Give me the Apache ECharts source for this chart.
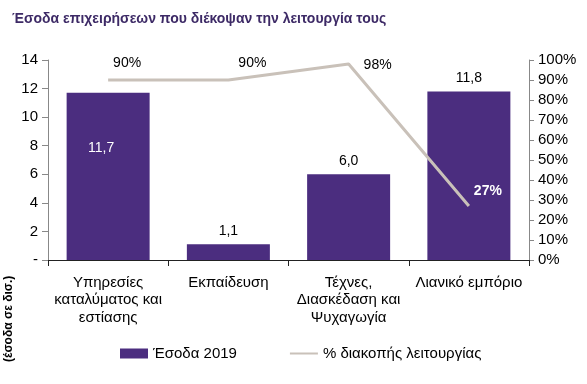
<!DOCTYPE html>
<html><head><meta charset="utf-8">
<script src="https://cdn.jsdelivr.net/npm/echarts@6/dist/echarts.min.js"></script>
<style>html,body{margin:0;padding:0;background:#fff}#c{width:587px;height:384px}</style>
</head><body><div id="c"></div>
<script>
var categories = ['Υπηρεσίες\nκαταλύματος και\nεστίασης', 'Εκπαίδευση', 'Τέχνες,\nΔιασκέδαση και\nΨυχαγωγία', 'Λιανικό εμπόριο'];
var revenue2019 = [11.7, 1.1, 6.0, 11.8];
var closurePct = [90, 90, 98, 27];
var leftTicks = { min: 0, max: 14, interval: 2 };
var rightTicks = { min: 0, max: 100, interval: 10 };

var FONT = '"Liberation Sans", Arial, sans-serif';
var purple = '#4b2d7f';
var lineCol = '#c9c1b9';

var chart = echarts.init(document.getElementById('c'), null, {renderer: 'canvas'});

var barLabelCfg = [
  {position: 'insideTop', distance: 48, offset: [-7, 0], color: '#fff'},
  {position: 'top', distance: 6, color: '#000'},
  {position: 'top', distance: 6, color: '#000'},
  {position: 'top', distance: 6, color: '#000'}
];
var lineLabelCfg = [
  {position: 'top', offset: [19, -5], color: '#000', fontWeight: 'normal'},
  {position: 'top', offset: [24, -5], color: '#000', fontWeight: 'normal'},
  {position: 'top', offset: [29, 13], color: '#000', fontWeight: 'normal'},
  {position: 'top', offset: [19, -3], color: '#fff', fontWeight: 'bold'}
];

chart.setOption({
  animation: false,
  textStyle: {fontFamily: FONT},
  title: {
    text: 'Έσοδα επιχειρήσεων που διέκοψαν την λειτουργία τους',
    left: 7, top: 7,
    textStyle: {fontFamily: FONT, fontSize: 14, fontWeight: 'bold', color: '#3d2a66'}
  },
  grid: {left: 48, right: 58, top: 60, bottom: 124, containLabel: false},
  legend: {
    bottom: 18, left: 115, itemGap: 52, itemWidth: 28, itemHeight: 10,
    textStyle: {fontFamily: FONT, fontSize: 15, color: '#000'},
    data: [
      {name: 'Έσοδα 2019', icon: 'rect'},
      {name: '% διακοπής λειτουργίας', itemStyle: {opacity: 0}}
    ]
  },
  graphic: [{
    type: 'text', x: 3, y: 362, rotation: Math.PI / 2,
    style: {text: '(έσοδα σε δισ.)', font: 'bold 12px ' + FONT, fill: '#000', textVerticalAlign: 'top', verticalAlign: 'top'}
  }],
  xAxis: {
    type: 'category', data: categories,
    axisLine: {lineStyle: {color: '#222', width: 1}},
    axisTick: {show: true, length: 6, lineStyle: {color: '#222'}},
    axisLabel: {fontFamily: FONT, fontSize: 15, color: '#000', lineHeight: 17.5, margin: 14, interval: 0}
  },
  yAxis: [{
    type: 'value', min: leftTicks.min, max: leftTicks.max, interval: leftTicks.interval,
    axisLine: {show: true, lineStyle: {color: '#888'}},
    axisTick: {show: true, length: 6, lineStyle: {color: '#888'}},
    splitLine: {show: false},
    axisLabel: {fontFamily: FONT, fontSize: 15, color: '#000', margin: 10,
      formatter: function (v) { return v === 0 ? '-' : String(v); }}
  }, {
    type: 'value', min: rightTicks.min, max: rightTicks.max, interval: rightTicks.interval,
    position: 'right',
    axisLine: {show: true, lineStyle: {color: '#888'}},
    axisTick: {show: true, length: 5, lineStyle: {color: '#888'}},
    splitLine: {show: false},
    axisLabel: {fontFamily: FONT, fontSize: 15, color: '#000', margin: 9,
      formatter: function (v) { return v + '%'; }}
  }],
  series: [{
    name: 'Έσοδα 2019', type: 'bar', yAxisIndex: 0, barWidth: 83,
    itemStyle: {color: purple},
    data: revenue2019.map(function (v, i) {
      var c = barLabelCfg[i];
      return {value: v, label: {show: true, position: c.position, distance: c.distance, offset: c.offset || [0, 0],
        color: c.color, fontSize: 14, fontFamily: FONT,
        formatter: function (p) { return p.value.toFixed(1).replace('.', ','); }}};
    })
  }, {
    name: '% διακοπής λειτουργίας', type: 'line', yAxisIndex: 1,
    symbol: 'circle', symbolSize: 0.01, showSymbol: true,
    lineStyle: {color: lineCol, width: 3}, itemStyle: {color: lineCol},
    data: closurePct.map(function (v, i) {
      var c = lineLabelCfg[i];
      return {value: v, label: {show: true, position: c.position, offset: c.offset, color: c.color,
        fontWeight: c.fontWeight, fontSize: 14, fontFamily: FONT, formatter: '{c}%'}};
    })
  }]
});
</script></body></html>
